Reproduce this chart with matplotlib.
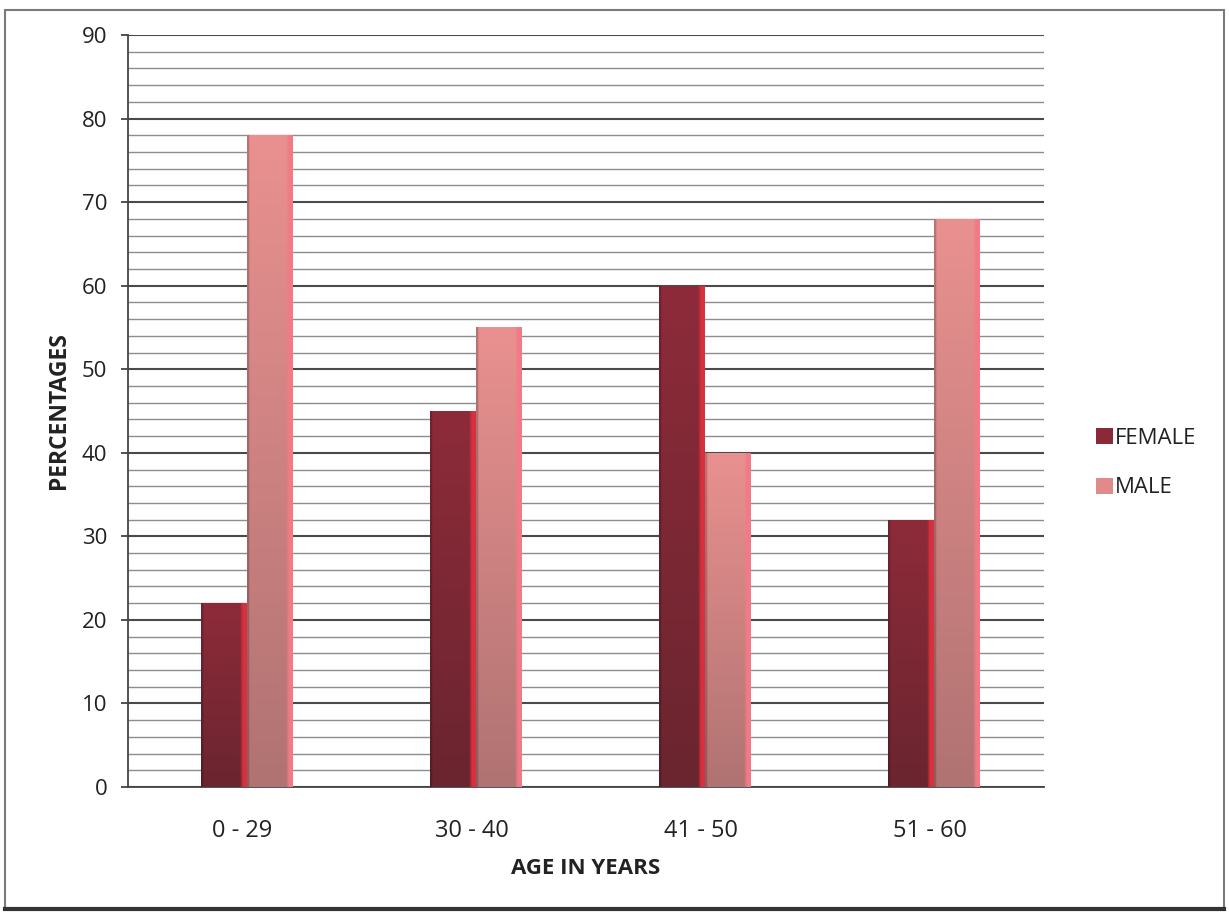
import numpy as np
import matplotlib

matplotlib.use("Agg")
import matplotlib.pyplot as plt
from matplotlib.colors import to_rgb
from matplotlib.lines import Line2D
from matplotlib.patches import Patch, Rectangle

age_groups = ["0 - 29", "30 - 40", "41 - 50", "51 - 60"]
female = [22, 45, 60, 32]
male = [78, 55, 40, 68]

# top colour, bottom colour, right-edge highlight
FEMALE_SHADE = ("#8e2b3a", "#6a252f", "#d9303f")
MALE_SHADE = ("#e99190", "#b07372", "#f27a86")

plt.rcParams["font.family"] = ["Open Sans", "DejaVu Sans"]


def shade_bars(ax, bars, shade):
    top, bottom, edge = (np.array(to_rgb(c)) for c in shade)
    ny, nx = 200, 60
    t = np.linspace(0, 1, ny)[:, None, None]
    img = top * (1 - t) + bottom * t
    img = np.repeat(img, nx, axis=1)
    xs = np.linspace(0, 1, nx)
    # bright strip down the right side, darker seam on the left
    hi = np.clip((xs - 0.86) / 0.06, 0, 1)[None, :, None]
    img = img * (1 - hi) + edge * hi
    lo = (xs < 0.05)[None, :, None]
    img = np.where(lo, img * 0.8, img)
    for bar in bars:
        x0, y0 = bar.get_x(), bar.get_y()
        w, h = bar.get_width(), bar.get_height()
        im = ax.imshow(img, extent=(x0, x0 + w, y0, y0 + h), origin="upper",
                       aspect="auto", zorder=3, interpolation="bilinear")
        im.set_clip_path(bar)
        bar.set_facecolor("none")


fig = plt.figure(figsize=(12.29, 9.15), dpi=100)
ax = fig.add_axes([0.1042, 0.1399, 0.7453, 0.8218])

x = np.arange(len(age_groups))
width = 0.2
b_f = ax.bar(x - width / 2 + 0.02, female, width, zorder=3, linewidth=0)
b_m = ax.bar(x + width / 2 + 0.02, male, width, zorder=3, linewidth=0)
shade_bars(ax, b_f, FEMALE_SHADE)
shade_bars(ax, b_m, MALE_SHADE)

ax.set_xlim(-0.5, len(age_groups) - 0.5)
ax.set_ylim(0, 90)
ax.set_yticks(np.arange(0, 91, 10))
ax.set_yticks(np.arange(0, 91, 2), minor=True)
ax.set_xticks(x)
ax.set_xticklabels(age_groups)

ax.grid(axis="y", which="major", color="#4a4a4a", linewidth=1.5, zorder=1)
ax.grid(axis="y", which="minor", color="#8c8c8c", linewidth=1.0, zorder=1)
ax.set_axisbelow(True)

for side in ("top", "right"):
    ax.spines[side].set_visible(False)
ax.spines["left"].set_color("#444444")
ax.spines["bottom"].set_color("#444444")
ax.spines["left"].set_linewidth(1.3)
ax.spines["bottom"].set_linewidth(1.3)

ax.tick_params(axis="y", which="major", length=5, width=1.3, color="#444444",
               pad=10, labelsize=16, labelcolor="#222222")
ax.tick_params(axis="y", which="minor", length=0)
ax.tick_params(axis="x", length=0, pad=23, labelsize=17, labelcolor="#222222")

ax.set_xlabel("AGE IN YEARS", fontsize=16, fontweight="bold", color="#222222", labelpad=11)
ax.set_ylabel("PERCENTAGES", fontsize=16.5, fontweight="bold", color="#222222", labelpad=8)

handles = [Patch(facecolor="#8a2a38", edgecolor="none"),
           Patch(facecolor="#e08a8a", edgecolor="none")]
fig.legend(handles, ["FEMALE", "MALE"], loc="center left",
           bbox_to_anchor=(1076 / 1229, 1 - 463 / 915), frameon=False,
           fontsize=16, handlelength=0.75, handleheight=0.75, handletextpad=0.12,
           labelspacing=1.3, labelcolor="#222222")

# page frame around the chart
fig.patches.append(Rectangle((5 / 1229, 1 - 909 / 915), 1219 / 1229, 899 / 915,
                             transform=fig.transFigure, fill=False,
                             edgecolor="#7a7a7a", linewidth=1.5))
fig.lines.append(Line2D([5 / 1229, 1224 / 1229], [1 - 909 / 915] * 2,
                        transform=fig.transFigure, color="#333333", linewidth=3))

fig.savefig("out.png", dpi=100)
